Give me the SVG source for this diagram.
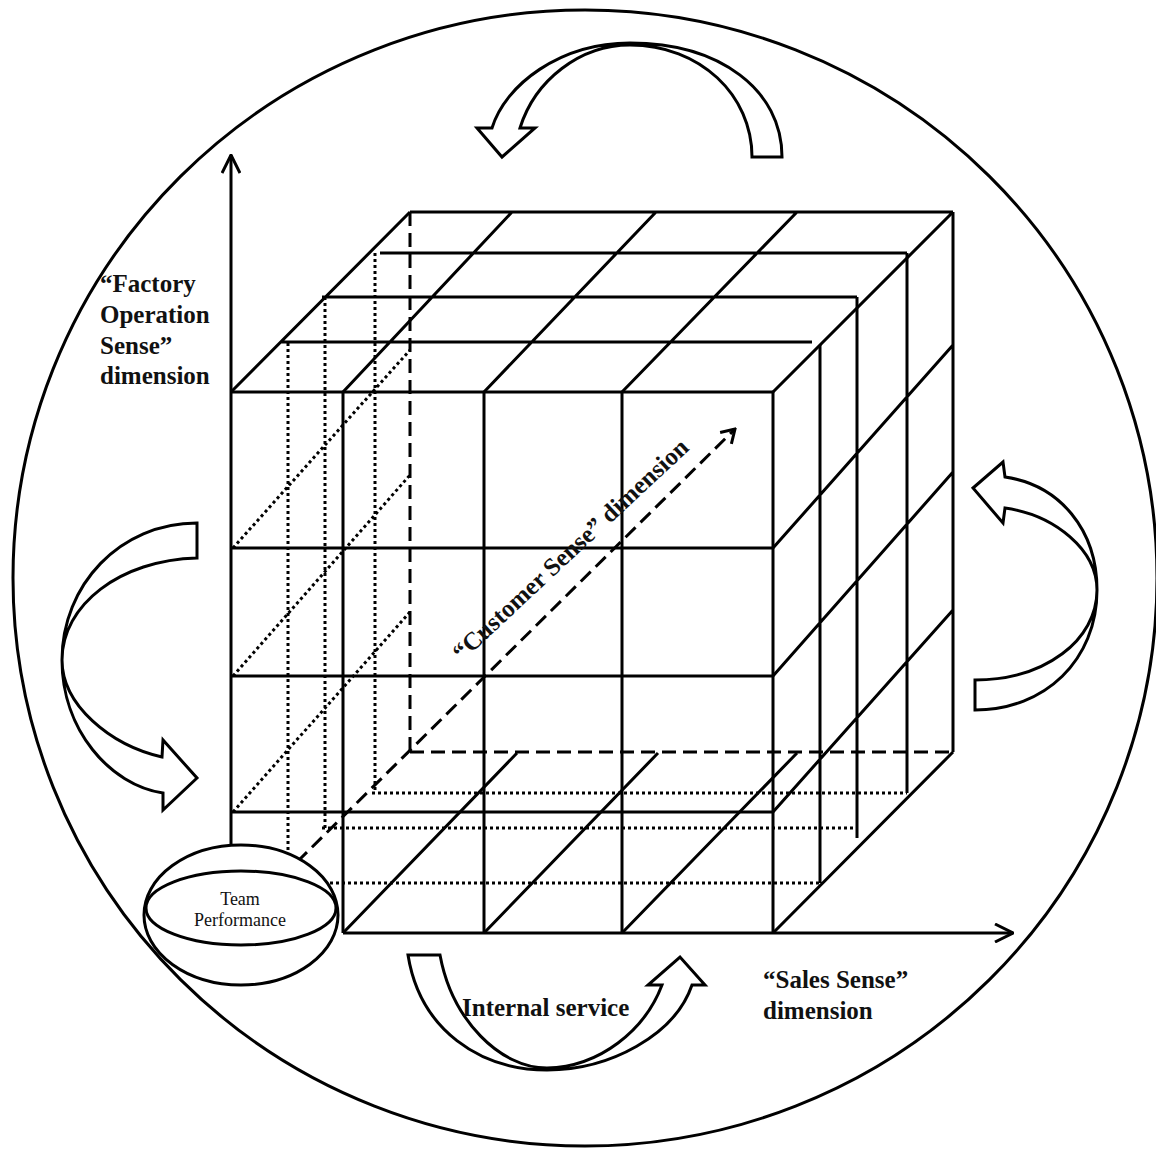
<svg xmlns="http://www.w3.org/2000/svg" width="1156" height="1149" viewBox="0 0 1156 1149">
<style>
.s{stroke:#000;stroke-width:3;fill:none;stroke-linecap:butt}
.dash{stroke:#000;stroke-width:3;fill:none;stroke-dasharray:14 7}
.dot{stroke:#000;stroke-width:3;fill:none;stroke-dasharray:3 3}
.blk{stroke:#000;stroke-width:3;fill:#fff;stroke-linejoin:miter}
.lbl{font-family:"Liberation Serif","Times New Roman",serif;font-weight:bold;font-size:25px;fill:#111}
.sm{font-family:"Liberation Serif","Times New Roman",serif;font-size:18px;fill:#111;text-anchor:middle}
</style>
<defs>
<marker id="ax" viewBox="0 0 20 20" refX="19" refY="10" markerWidth="20" markerHeight="20" markerUnits="userSpaceOnUse" orient="auto">
<path d="M1,1 L19,10 L1,19" fill="none" stroke="#000" stroke-width="3"/>
</marker>
<marker id="cs" viewBox="0 0 16 20" refX="14" refY="10" markerWidth="16" markerHeight="20" markerUnits="userSpaceOnUse" orient="auto">
<path d="M1,2 L14,10 L1,18" fill="none" stroke="#000" stroke-width="3"/>
</marker>
</defs>
<rect width="1156" height="1149" fill="#fff"/>
<g id="boundary">
<ellipse cx="585" cy="578" rx="572" ry="568" class="s"/>
</g>
<g id="cube">
<!-- front face -->
<path class="s" d="M231,392 H773 M231,548 H773 M231,676 H773 M231,812 H773 M343,392 V933 M484,392 V933 M622,392 V933 M773,392 V933"/>
<!-- top face -->
<path class="s" d="M410,212 H953 M231,392 L410,212 M343,392 L512,212 M484,392 L656,212 M622,392 L797,212 M773,392 L953,212 M380,253 H907 M322,297 H857 M280,342 H812"/>
<!-- right face -->
<path class="s" d="M953,212 V752 M820,345 V883 M857,297 V838 M907,253 V793 M773,548 L953,345 M773,676 L953,472 M773,812 L953,610 M773,933 L953,752"/>
<!-- bottom face -->
<path class="s" d="M343,933 L517,753 M484,933 L658,753 M622,933 L797,753"/>
<!-- hidden back edges -->
<path class="dash" d="M410,212 V752 M410,752 H953"/>
<!-- dotted hidden lines -->
<path class="dot" d="M288,343 V858 M325,297 V830 M375,253 V793 M233,548 L410,350 M233,676 L410,475 M233,812 L410,612 M372,793 H907 M322,828 H857 M330,883 H820"/>
</g>
<g id="connectors">
<line x1="231" y1="845" x2="231" y2="155" class="s" marker-end="url(#ax)"/>
<line x1="343" y1="933" x2="1013" y2="933" class="s" marker-end="url(#ax)"/>
<line x1="297" y1="862" x2="735" y2="429" class="dash" marker-end="url(#cs)"/>
</g>
<g id="team-performance">
<ellipse cx="241" cy="915" rx="97" ry="70" class="blk"/>
<ellipse cx="241" cy="908" rx="95" ry="37" class="s"/>
<text class="sm" x="240" y="905">Team</text>
<text class="sm" x="240" y="926">Performance</text>
</g>
<g id="arrow-top">
<path class="blk" d="M782,157 C782,90 720,43 630,43 C560,43 505,85 492,128 L477,128 L502,157 L535,128 L520,128 C535,80 580,45 630,45 C700,45 752,95 752,157 Z"/>
</g>
<g id="arrow-left">
<path class="blk" d="M197,523 C120,523 62,585 62,660 C62,730 110,785 163,793 L163,810 L197,778 L163,740 L162,757 C110,745 62,705 62,660 C62,605 120,560 197,558 Z"/>
</g>
<g id="arrow-right">
<path class="blk" d="M975,710 C1045,710 1097,660 1097,590 C1097,530 1060,485 1005,477 L1003,462 L973,488 L1003,523 L1005,508 C1055,515 1097,550 1097,590 C1097,640 1045,680 975,680 Z"/>
</g>
<g id="arrow-bottom">
<path class="blk" d="M408,955 C420,1030 480,1070 547,1070 C610,1070 675,1035 692,985 L705,985 L680,957 L648,985 L662,985 C645,1030 600,1067 547,1068 C500,1068 452,1020 440,955 Z"/>
</g>
<g id="labels">
<text class="lbl" x="100" y="292">“Factory</text>
<text class="lbl" x="100" y="323">Operation</text>
<text class="lbl" x="100" y="354">Sense”</text>
<text class="lbl" x="100" y="384">dimension</text>
<text class="lbl" x="763" y="988">“Sales Sense”</text>
<text class="lbl" x="763" y="1019">dimension</text>
<text class="lbl" x="462" y="1016">Internal service</text>
<text class="lbl" transform="translate(462,662) rotate(-43)">“Customer Sense” dimension</text>
</g>
</svg>
